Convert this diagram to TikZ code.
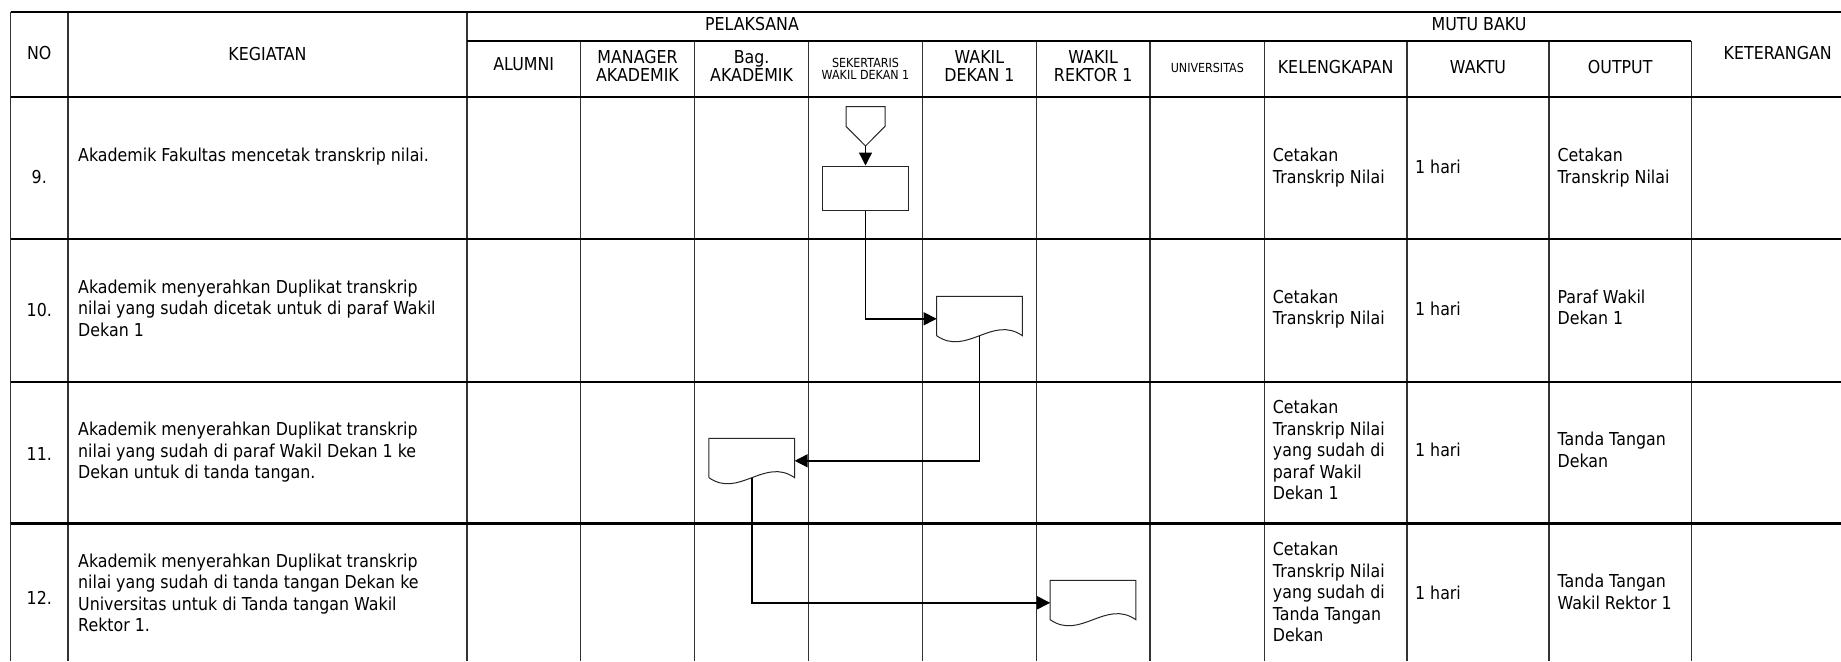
\documentclass[tikz,border=0pt]{standalone}
\usepackage{fontspec}
\setmainfont{DejaVu Sans}[FakeStretch=0.89]
\usetikzlibrary{arrows.meta}
\newcommand\mainsz{\fontsize{17.8pt}{21.5pt}\selectfont}
\newcommand\hdrsz{\fontsize{17.8pt}{18.5pt}\selectfont}
\newcommand\smallsz{\fontsize{12.5pt}{12.6pt}\selectfont}
\newcommand\docout[1]{\draw[outl] ([yshift=5.6pt]#1.south west) -- (#1.north west) -- (#1.north east) -- ([yshift=5.6pt]#1.south east) .. controls +(-30pt,21pt) and +(30pt,-21pt) .. ([yshift=5.6pt]#1.south west);}
\begin{document}
\begin{tikzpicture}[x=1pt,y=-1pt,
  vline/.style={line width=1.5pt, draw=black!80},
  hline/.style={line width=2pt, draw=black},
  txt/.style={font=\mainsz, inner sep=0pt, align=left, anchor=west, execute at begin node=\strut, execute at end node=\strut},
  hdr/.style={font=\hdrsz, inner sep=0pt, align=center},
  small/.style={font=\smallsz, inner sep=0pt, align=center},
  procbox/.style={draw=black!85, line width=1pt, minimum width=85.6pt, minimum height=44.7pt, inner sep=0pt},
  ghost/.style={draw=none, inner sep=0pt, outer sep=0pt},
  docshape/.style={ghost, minimum width=85.7pt, minimum height=45pt},
  offpage/.style={ghost, minimum width=39pt, minimum height=39.3pt},
  outl/.style={line width=1pt, draw=black!85},
  flow/.style={line width=1.4pt, -{Triangle[length=13pt,width=13pt]}}
]
\fill[white] (0,0) rectangle (1841,661);
\useasboundingbox (0,0) rectangle (1841,661);

% table lines
\foreach \x in {10.7,68,467} \draw[vline] (\x,12) -- (\x,661);
\foreach \x in {580.4,694.7,808.6,922.4,1036.3,1150.2,1264.4,1406.9,1549.1,1691.3} \draw[vline] (\x,40.7) -- (\x,661);
\draw[hline, line width=2.5pt] (10.7,12) -- (1841,12);
\draw[hline] (467,40.7) -- (1691.3,40.7);
\draw[hline] (10.7,97.3) -- (1841,97.3);
\draw[hline] (10.7,239.3) -- (1841,239.3);
\draw[hline] (10.7,381.7) -- (1841,381.7);
\draw[hline, line width=3pt] (10.7,523.7) -- (1841,523.7);

% header
\node[hdr] (hno) at (39.3,53.3) {NO};
\node[hdr] (hkeg) at (267.5,54) {KEGIATAN};
\node[hdr] (hpel) at (752,24.5) {PELAKSANA};
\node[hdr] (hmutu) at (1479,24.5) {MUTU BAKU};
\node[hdr] (halumni) at (523.7,64.3) {ALUMNI};
\node[hdr] (hman) at (637.5,66) {MANAGER\\AKADEMIK};
\node[hdr] (hbag) at (751.6,66) {Bag.\\AKADEMIK};
\node[small] (hsek) at (865.5,68.8) {SEKERTARIS\\WAKIL DEKAN 1};
\node[hdr] (hwd) at (979.4,66) {WAKIL\\DEKAN 1};
\node[hdr] (hwr) at (1093.2,66) {WAKIL\\REKTOR 1};
\node[small] (huni) at (1207.3,67.5) {UNIVERSITAS};
\node[hdr] (hkel) at (1335.6,66.7) {KELENGKAPAN};
\node[hdr] (hwaktu) at (1478,66.7) {WAKTU};
\node[hdr] (hout) at (1620.2,67) {OUTPUT};
\node[hdr] (hket) at (1777.7,53.3) {KETERANGAN};

% numbers
\node[hdr] (n9) at (39.3,177.5) {9.};
\node[hdr] (n10) at (39.3,310.5) {10.};
\node[hdr] (n11) at (39.3,454) {11.};
\node[hdr] (n12) at (39.3,597.5) {12.};

% activities
\node[txt] (t9) at (78,157.5) {Akademik Fakultas mencetak transkrip nilai.};
\node[txt] (t10) at (78,311) {Akademik menyerahkan Duplikat transkrip\\nilai yang sudah dicetak untuk di paraf Wakil\\Dekan 1};
\node[txt] (t11) at (78,453.5) {Akademik menyerahkan Duplikat transkrip\\nilai yang sudah di paraf Wakil Dekan 1 ke\\Dekan untuk di tanda tangan.};
\node[txt] (t12) at (78,596) {Akademik menyerahkan Duplikat transkrip\\nilai yang sudah di tanda tangan Dekan ke\\Universitas untuk di Tanda tangan Wakil\\Rektor 1.};

% kelengkapan
\node[txt] (k9) at (1272.7,169) {Cetakan\\Transkrip Nilai};
\node[txt] (k10) at (1272.7,310.5) {Cetakan\\Transkrip Nilai};
\node[txt] (k11) at (1272.7,453) {Cetakan\\Transkrip Nilai\\yang sudah di\\paraf Wakil\\Dekan 1};
\node[txt] (k12) at (1272.7,595) {Cetakan\\Transkrip Nilai\\yang sudah di\\Tanda Tangan\\Dekan};

% waktu
\node[txt] (w9) at (1414.9,169) {1 hari};
\node[txt] (w10) at (1414.9,311) {1 hari};
\node[txt] (w11) at (1414.9,452.5) {1 hari};
\node[txt] (w12) at (1414.9,595) {1 hari};

% output
\node[txt] (o9) at (1557.4,169) {Cetakan\\Transkrip Nilai};
\node[txt] (o10) at (1557.4,310.5) {Paraf Wakil\\Dekan 1};
\node[txt] (o11) at (1557.4,453) {Tanda Tangan\\Dekan};
\node[txt] (o12) at (1557.4,595) {Tanda Tangan\\Wakil Rektor 1};

% flow shapes
\node[offpage] (p9) at (865.5,126.35) {};
\draw[outl] (p9.north west) -- (p9.north east) -- (p9.east) -- (p9.south) -- (p9.west) -- cycle;
\node[procbox] (r9) at (865.5,188.35) {};
\node[docshape] (d1) at (979.5,318.8) {};
\docout{d1}
\node[docshape] (d2) at (751.8,460.8) {};
\docout{d2}
\node[docshape] (d3) at (1093,602.8) {};
\docout{d3}

% connectors
\draw[flow] (p9.south) -- (r9.north);
\draw[flow] (r9.south) |- (d1.west);
\draw[flow] ([yshift=5.6pt]d1.south) |- (d2.east);
\draw[flow] ([yshift=5.6pt]d2.south) |- (d3.west);
\end{tikzpicture}
\end{document}
